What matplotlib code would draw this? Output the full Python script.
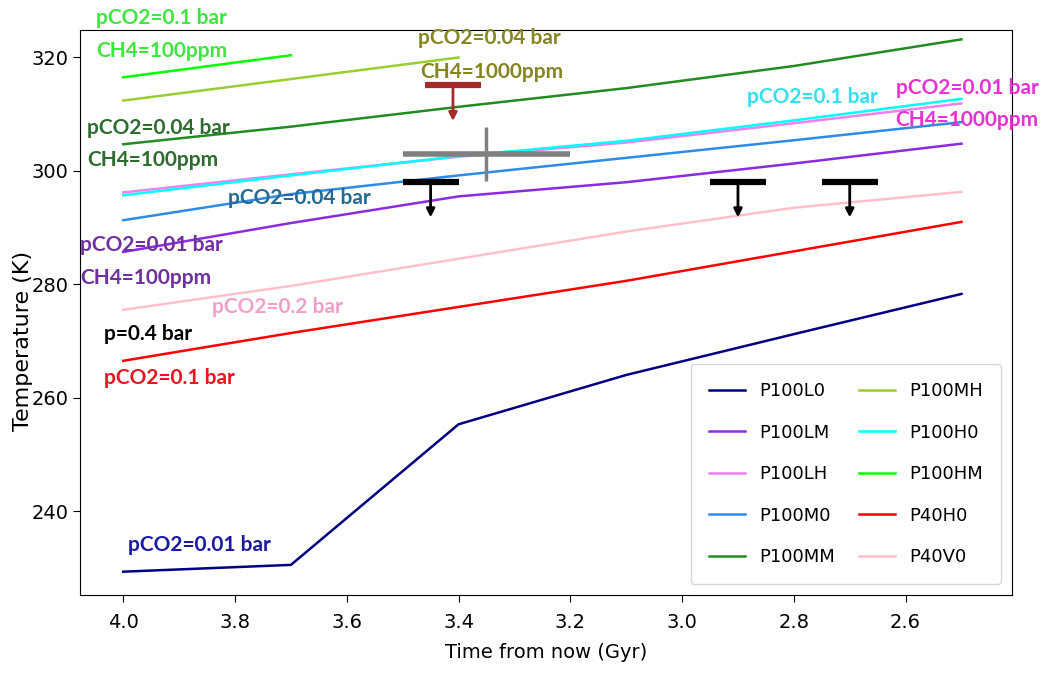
import matplotlib
matplotlib.use("Agg")
import matplotlib.pyplot as plt

# time from now (Gyr) and model temperatures (K)
years = [4.0, 3.7, 3.4, 3.1, 2.8, 2.5]
P100L0 = [229.3, 230.5, 255.3, 264.0, 271.2, 278.3]
P100LM = [285.7, 290.8, 295.5, 298.0, 301.3, 304.8]
P100LH = [296.2, 299.4, 302.5, 305.0, 308.4, 311.9]
P100M0 = [291.3, 295.9, 299.2, 302.3, 305.4, 308.6]
P100MM = [304.7, 307.8, 311.3, 314.6, 318.5, 323.2]
P100MH = [312.4, 316.2, 320.0]
P100H0 = [295.7, 299.2, 302.6, 305.3, 308.9, 312.7]
P100HM = [316.5, 320.4]
P40H0 = [266.5, 271.4, 276.0, 280.6, 285.8, 291.0]
P40V0 = [275.5, 279.7, 284.5, 289.3, 293.5, 296.3]

# constraints
limit_x = [3.45, 2.9, 2.7]
limit_top = 298.0
limit_tip = 291.3
red_x, red_top, red_tip = 3.41, 315.1, 308.3
cross_x, cross_y, cross_xerr, cross_yerr = 3.35, 303.0, 0.15, 4.7

fig = plt.figure(figsize=(10.42, 6.73), dpi=100)
ax = fig.add_axes([0.077, 0.116, 0.894, 0.839])

lw = 1.8
ax.plot(years, P100L0, color="navy", lw=lw, label="P100L0")
ax.plot(years, P100LM, color="blueviolet", lw=lw, label="P100LM")
ax.plot(years, P100LH, color="violet", lw=lw, label="P100LH")
ax.plot(years, P100M0, color="#2f8ae8", lw=lw, label="P100M0")
ax.plot(years, P100MM, color="forestgreen", lw=lw, label="P100MM")
ax.plot(years[:3], P100MH, color="yellowgreen", lw=lw, label="P100MH")
ax.plot(years, P100H0, color="cyan", lw=lw, label="P100H0")
ax.plot(years[:2], P100HM, color="lime", lw=lw, label="P100HM")
ax.plot(years, P40H0, color="red", lw=lw, label="P40H0")
ax.plot(years, P40V0, color="pink", lw=lw, label="P40V0")

# upper limits
for x in limit_x:
    ax.hlines(limit_top, x - 0.05, x + 0.05, color="black", lw=4.5)
    ax.annotate("", xy=(x, limit_tip), xytext=(x, limit_top),
                arrowprops=dict(arrowstyle="-|>", color="black", lw=2, mutation_scale=12))
ax.hlines(red_top, red_x - 0.05, red_x + 0.05, color="#a52a2a", lw=4.5)
ax.annotate("", xy=(red_x, red_tip), xytext=(red_x, red_top),
            arrowprops=dict(arrowstyle="-|>", color="#a52a2a", lw=2, mutation_scale=12))
ax.hlines(cross_y, cross_x - cross_xerr, cross_x + cross_xerr, color="gray", lw=4)
ax.vlines(cross_x, cross_y - cross_yerr, cross_y + cross_yerr, color="gray", lw=2.5)

# labels
fs = 15
tk = dict(fontsize=fs, fontweight="bold", family="Lato", va="center", ha="left")
ax.text(4.048, 327.0, "pCO2=0.1 bar", color="#3ee63e", **tk)
ax.text(4.048, 321.2, "CH4=100ppm", color="#3ee63e", **tk)
ax.text(3.472, 323.5, "pCO2=0.04 bar", color="#858522", **tk)
ax.text(3.468, 317.5, "CH4=1000ppm", color="#858522", **tk)
ax.text(4.064, 307.5, "pCO2=0.04 bar", color="#2e6b2e", **tk)
ax.text(4.064, 301.9, "CH4=100ppm", color="#2e6b2e", **tk)
ax.text(2.883, 313.0, "pCO2=0.1 bar", color="#33e0f0", **tk)
ax.text(2.618, 314.7, "pCO2=0.01 bar", color="#e632d2", **tk)
ax.text(2.618, 308.9, "CH4=1000ppm", color="#e632d2", **tk)
ax.text(3.812, 295.2, "pCO2=0.04 bar", color="#236a94", **tk)
ax.text(4.077, 286.9, "pCO2=0.01 bar", color="#7030a0", **tk)
ax.text(4.077, 281.1, "CH4=100ppm", color="#7030a0", **tk)
ax.text(3.841, 276.0, "pCO2=0.2 bar", color="#f0a0c8", **tk)
ax.text(4.034, 271.2, "p=0.4 bar", color="black", **tk)
ax.text(4.034, 263.5, "pCO2=0.1 bar", color="#e8141e", **tk)
ax.text(3.991, 234.0, "pCO2=0.01 bar", color="#1a1aa0", **tk)

ax.set_xlim(4.077, 2.41)
ax.set_ylim(225.2, 324.8)
ax.set_xticks([4.0, 3.8, 3.6, 3.4, 3.2, 3.0, 2.8, 2.6])
ax.set_yticks([240, 260, 280, 300, 320])
ax.tick_params(labelsize=14, length=5)
ax.tick_params(axis="x", pad=8)
ax.set_xlabel("Time from now (Gyr)", fontsize=14, labelpad=8)
ax.set_ylabel("Temperature (K)", fontsize=16)
ax.yaxis.set_label_coords(-0.051, 0.45)

ax.legend(loc="lower right", ncol=2, fontsize=13, labelspacing=1.3,
          handlelength=2.0, handletextpad=0.8, columnspacing=1.3,
          borderpad=1.0, borderaxespad=0.6)

fig.savefig("out.png", dpi=100)
